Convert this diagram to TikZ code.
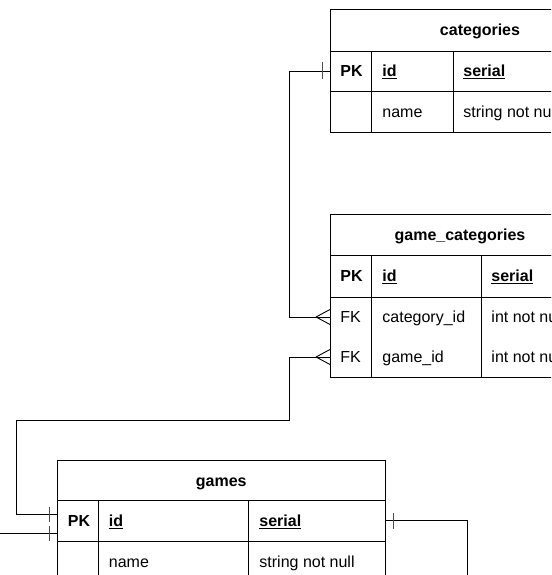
\documentclass[tikz,border=0pt]{standalone}
\usepackage{fontspec}
\setmainfont{Liberation Sans}
\newcommand{\keyname}[1]{\textbf{\underline{#1}}}
\begin{document}
\begin{tikzpicture}[x=1pt,y=-1pt,line width=0.9pt,
  box/.style={draw, anchor=north west, inner sep=0pt, outer sep=0pt},
  slot/.style={anchor=north west, inner sep=0pt, outer sep=0pt},
  txt/.style={anchor=base west, inner sep=0pt, font=\fontsize{16}{19}\selectfont},
  ttl/.style={anchor=base, inner sep=0pt, font=\fontsize{16}{19}\selectfont\bfseries},
  link/.style={line width=0.9pt},
  bar/.style={line width=0.9pt, draw=black!70},
]
\useasboundingbox (0,0) rectangle (551,575);
\clip (0,0) rectangle (551,575);

% ---------- categories ----------
\node[box, minimum width=300pt, minimum height=42pt] (cat-title) at (330,9) {};
\node[box, minimum width=300pt, minimum height=40pt] (cat-pk) at (330,51) {};
\node[box, minimum width=300pt, minimum height=41pt] (cat-name) at (330,91) {};
\draw (371,51) -- (371,132) (453,51) -- (453,132);
\node[ttl] (cat-t) at (480,35.7) {categories};
\node[txt, font=\fontsize{16}{19}\selectfont\bfseries] (cat-pk-k) at (340,76.7) {PK};
\node[txt] (cat-pk-n) at (382,76.7) {\keyname{id}};
\node[txt] (cat-pk-t) at (463,76.7) {\keyname{serial}};
\node[txt] (cat-name-n) at (382,117.2) {name};
\node[txt] (cat-name-t) at (463,117.2) {string not null};

% ---------- game_categories ----------
\node[box, minimum width=260pt, minimum height=41pt] (gc-title) at (330,214) {};
\node[box, minimum width=260pt, minimum height=42pt] (gc-pk) at (330,255) {};
\node[box, minimum width=260pt, minimum height=80pt] (gc-fk) at (330,297) {};
\node[slot, minimum width=260pt, minimum height=40pt] (gc-fk1) at (330,297) {};
\node[slot, minimum width=260pt, minimum height=40pt] (gc-fk2) at (330,337) {};
\draw (371,255) -- (371,377) (481,255) -- (481,377);
\node[ttl] (gc-t) at (460,240.2) {game\_categories};
\node[txt, font=\fontsize{16}{19}\selectfont\bfseries] (gc-pk-k) at (340,281.7) {PK};
\node[txt] (gc-pk-n) at (382,281.7) {\keyname{id}};
\node[txt] (gc-pk-t) at (491,281.7) {\keyname{serial}};
\node[txt] (gc-fk1-k) at (340,322.7) {FK};
\node[txt] (gc-fk1-n) at (382,322.7) {category\_id};
\node[txt] (gc-fk1-t) at (491,322.7) {int not null};
\node[txt] (gc-fk2-k) at (340,362.7) {FK};
\node[txt] (gc-fk2-n) at (382,362.7) {game\_id};
\node[txt] (gc-fk2-t) at (491,362.7) {int not null};

% ---------- games ----------
\node[box, minimum width=327.5pt, minimum height=40.5pt] (g-title) at (57.5,460) {};
\node[box, minimum width=327.5pt, minimum height=40.5pt] (g-pk) at (57.5,500.5) {};
\node[box, minimum width=327.5pt, minimum height=41pt] (g-name) at (57.5,541) {};
\draw (98,500.5) -- (98,582) (248,500.5) -- (248,582);
\node[ttl] (g-t) at (221.25,486.2) {games};
\node[txt, font=\fontsize{16}{19}\selectfont\bfseries] (g-pk-k) at (67.5,526.5) {PK};
\node[txt] (g-pk-n) at (108.5,526.5) {\keyname{id}};
\node[txt] (g-pk-t) at (259,526.5) {\keyname{serial}};
\node[txt] (g-name-n) at (108.5,567) {name};
\node[txt] (g-name-t) at (259,567) {string not null};

% attachment points on the games table
\coordinate (g-in-a) at ([yshift=6.75pt]g-pk.west);
\coordinate (g-in-b) at ([yshift=-12.25pt]g-pk.west);
\coordinate (g-out) at (g-pk.east);
\coordinate (ext-left) at (-5,533);
\coordinate (ext-down) at (467,590);

% ---------- relations ----------
% categories.id  ->  game_categories.category_id
\draw[link] (cat-pk.west) -- ++(-41,0) |- (gc-fk1.west);
\draw[bar] ([xshift=-8pt]cat-pk.west) ++(0,-8.5) -- ++(0,17);
\draw[link] (gc-fk1.west) ++(-14,0) -- ++(14,-7.5)
            (gc-fk1.west) ++(-14,0) -- ++(14,7.5);

% game_categories.game_id  ->  games.id
\draw[link] (gc-fk2.west) -- ++(-41,0) -- ++(0,63) -- ++(-273,0) |- (g-in-a);
\draw[link] (gc-fk2.west) ++(-14,0) -- ++(14,-7.5)
            (gc-fk2.west) ++(-14,0) -- ++(14,7.5);
\draw[bar] ([xshift=-8.5pt]g-in-a) ++(0,-7.5) -- ++(0,15);

% further links of games.id
\draw[link] (ext-left) -- (g-in-b);
\draw[bar] ([xshift=-8.5pt]g-in-b) ++(0,-7.5) -- ++(0,15);
\draw[link] (g-out) -| (ext-down);
\draw[bar] ([xshift=8pt]g-out) ++(0,-8) -- ++(0,16);
\end{tikzpicture}
\end{document}
